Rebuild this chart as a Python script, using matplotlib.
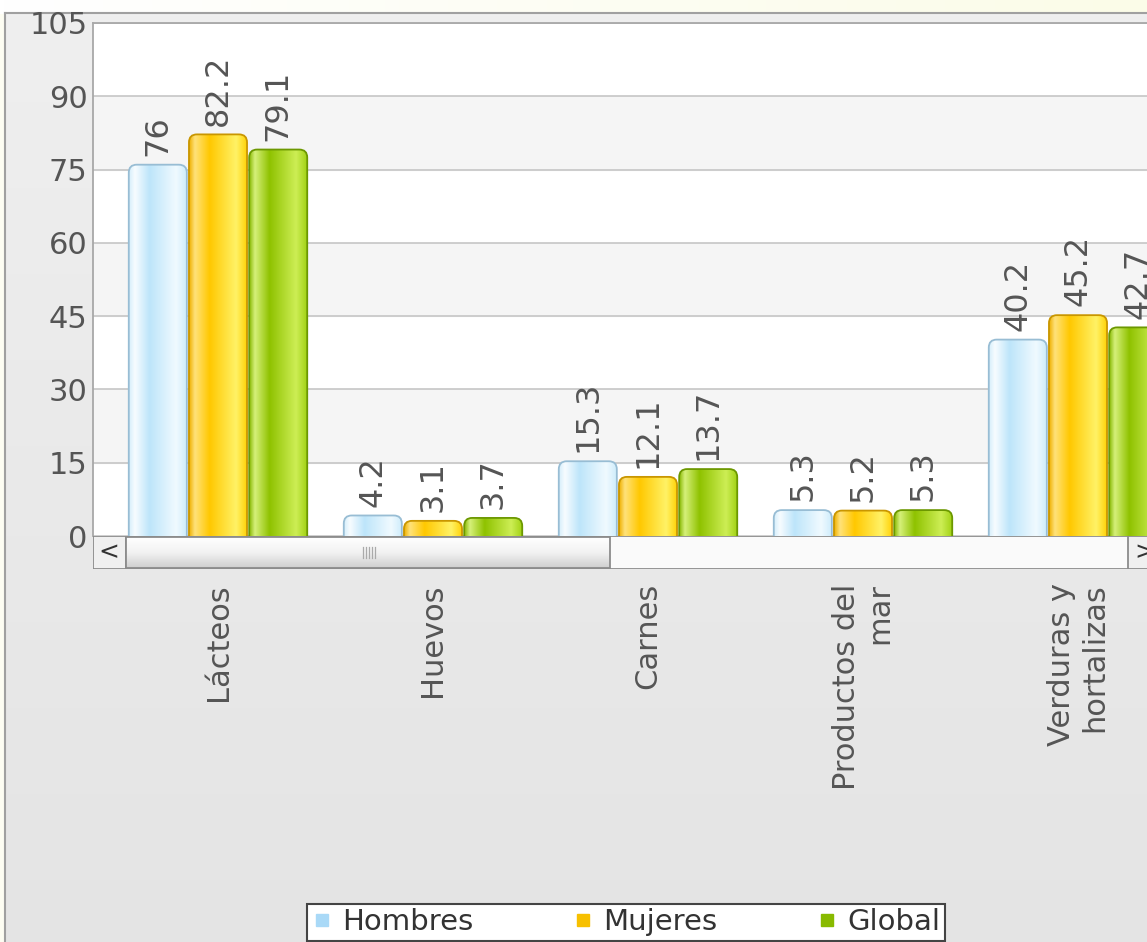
import matplotlib
matplotlib.use('Agg')
import matplotlib.pyplot as plt
import numpy as np
from matplotlib.patches import Rectangle, FancyBboxPatch
from matplotlib.colors import LinearSegmentedColormap
from matplotlib.lines import Line2D

categories = ['Lácteos', 'Huevos', 'Carnes', 'Productos del\nmar', 'Verduras y\nhortalizas']
series_names = ['Hombres', 'Mujeres', 'Global']
hombres = [76, 4.2, 15.3, 5.3, 40.2]
mujeres = [82.2, 3.1, 12.1, 5.2, 45.2]
global_ = [79.1, 3.7, 13.7, 5.3, 42.7]
y_ticks = [0, 15, 30, 45, 60, 75, 90, 105]

W, H = 1147, 942
fig = plt.figure(figsize=(W / 100, H / 100), dpi=100)
fig.patch.set_facecolor('#fdfdf2')


def px(x0, y0, x1, y1):
    return [x0 / W, 1 - y1 / H, (x1 - x0) / W, (y1 - y0) / H]


# top strip gradient
top = fig.add_axes(px(0, 0, 1147, 14), zorder=-3)
top.imshow(np.linspace(0, 1, 256).reshape(1, -1),
           cmap=LinearSegmentedColormap.from_list('t', ['#ffffff', '#fbfce8']),
           aspect='auto', extent=[0, 1, 0, 1])
top.axis('off')

# panel background
bg = fig.add_axes(px(5, 13, 1170, 970), zorder=-2)
bg.imshow(np.linspace(0, 1, 256).reshape(-1, 1),
          cmap=LinearSegmentedColormap.from_list('b', ['#efefef', '#e4e4e4']),
          aspect='auto', extent=[0, 1, 0, 1])
bg.set_xticks([]); bg.set_yticks([])
for s in bg.spines.values():
    s.set_color('#a0a0a0'); s.set_linewidth(1.5)

# main axes
ax = fig.add_axes(px(93, 23, 1147, 536))
ax.set_facecolor('white')
n = len(categories)
x = np.arange(n)
width = 0.27
offs = [-0.28, 0.0, 0.28]
series = [hombres, mujeres, global_]

grad_defs = [
    ([0, 0.1, 0.35, 0.8, 1.0], ['#d6eefb', '#f7fcff', '#bde5fa', '#f0faff', '#cbebfb'], '#98bdd4'),
    ([0, 0.1, 0.35, 0.8, 1.0], ['#efb000', '#ffe27a', '#ffc800', '#fff266', '#ffd000'], '#c99600'),
    ([0, 0.1, 0.35, 0.8, 1.0], ['#86b800', '#d6f07a', '#8fc200', '#cdee55', '#9fd010'], '#6c9800'),
]
legend_colors = ['#a9d9f7', '#f7c000', '#88ba00']

for lo in [15, 45, 75]:
    ax.axhspan(lo, lo + 15, color='#f5f5f5', zorder=0)

ax.set_yticks(y_ticks)
ax.yaxis.grid(True, color='#c6c6c6', lw=1.2, zorder=1)
ax.set_axisbelow(True)

grad = np.linspace(0, 1, 256).reshape(1, -1)
px_per_x = 215.0
px_per_y = 513.0 / 105
rad = 8.0
rx = rad / px_per_x
asp = (rad / px_per_y) / rx

for j, vals in enumerate(series):
    stops, cols, edge = grad_defs[j]
    cmap = LinearSegmentedColormap.from_list('g%d' % j, list(zip(stops, cols)))
    bars = ax.bar(x + offs[j], vals, width, color=legend_colors[j], zorder=2)
    for b, v in zip(bars, vals):
        bx, by = b.get_x(), b.get_y()
        bw, bh = b.get_width(), b.get_height()
        fp = FancyBboxPatch((bx, by - 3), bw, bh + 3,
                            boxstyle='round,pad=0,rounding_size=%f' % rx,
                            mutation_aspect=asp, facecolor='none',
                            edgecolor=edge, lw=1.3, zorder=3)
        ax.add_patch(fp)
        im = ax.imshow(grad, cmap=cmap, extent=[bx, bx + bw, by - 3, by + bh],
                       aspect='auto', zorder=2.5, interpolation='bilinear')
        im.set_clip_path(fp)
        b.set_visible(False)
        ax.text(bx + bw / 2, by + bh + 1.8, '{:g}'.format(v), rotation=90,
                ha='center', va='bottom', fontsize=23, color='#555555', zorder=4)

ax.set_xlim((93 - 218) / px_per_x, (1147 - 218) / px_per_x)
ax.set_ylim(0, 105)
ax.set_aspect('auto')

ax.set_xticks(x)
ax.set_xticklabels(categories, rotation=90, fontsize=22, color='#555555',
                   va='top', ha='center', multialignment='right')
ax.tick_params(axis='x', length=0, pad=34)
ax.tick_params(axis='y', length=0, pad=4, labelsize=22, labelcolor='#555555')
for k in ['right', 'bottom']:
    ax.spines[k].set_visible(False)
for k in ['left', 'top']:
    ax.spines[k].set_color('#a8a8a8')
    ax.spines[k].set_linewidth(1.3)

# scrollbar
sb = fig.add_axes(px(93, 536, 1147, 569), zorder=5)
sb.set_xlim(93, 1147)
sb.set_ylim(569, 536)
sb.axis('off')
sb.add_patch(Rectangle((93, 536), 1100, 33, facecolor='#fafafa', edgecolor='#8c8c8c', lw=1.3))
sb.add_patch(Rectangle((93, 536), 33, 33, facecolor='#f0f0f0', edgecolor='#8c8c8c', lw=1.3))
sb.text(109, 552, '<', ha='center', va='center', fontsize=18, color='#333333')
thumb = Rectangle((126, 537), 484, 31, facecolor='none', edgecolor='#8c8c8c', lw=1.3, zorder=3)
sb.add_patch(thumb)
tim = sb.imshow(np.linspace(0, 1, 64).reshape(-1, 1),
                cmap=LinearSegmentedColormap.from_list('s', ['#ffffff', '#f2f2f2', '#cfcfcf']),
                extent=[126, 610, 568, 537], aspect='auto', zorder=2)
tim.set_clip_path(thumb)
for gx in [363, 366, 369, 372, 375]:
    sb.plot([gx, gx], [547, 558], color='#aaaaaa', lw=0.9, zorder=4)
sb.add_patch(Rectangle((1128, 536), 40, 33, facecolor='#f0f0f0', edgecolor='#8c8c8c', lw=1.3))
sb.text(1145, 552, '>', ha='center', va='center', fontsize=18, color='#333333')
sb.set_xlim(93, 1147)
sb.set_ylim(569, 536)

# legend
handles = [Line2D([], [], marker='s', ls='', markersize=9,
                  markerfacecolor=c, markeredgecolor=c) for c in legend_colors]
leg = fig.legend(handles, series_names, loc='lower center',
                 bbox_to_anchor=(626 / W, 1.5 / H), ncol=3, fontsize=21,
                 frameon=True, fancybox=False, edgecolor='#444444',
                 facecolor='white', framealpha=1, columnspacing=3.4,
                 handletextpad=0.35, borderpad=0.15, borderaxespad=0,
                 handlelength=0.7, labelcolor='#333333')
leg.get_frame().set_linewidth(1.5)

fig.savefig('out.png', dpi=100, facecolor=fig.get_facecolor())
